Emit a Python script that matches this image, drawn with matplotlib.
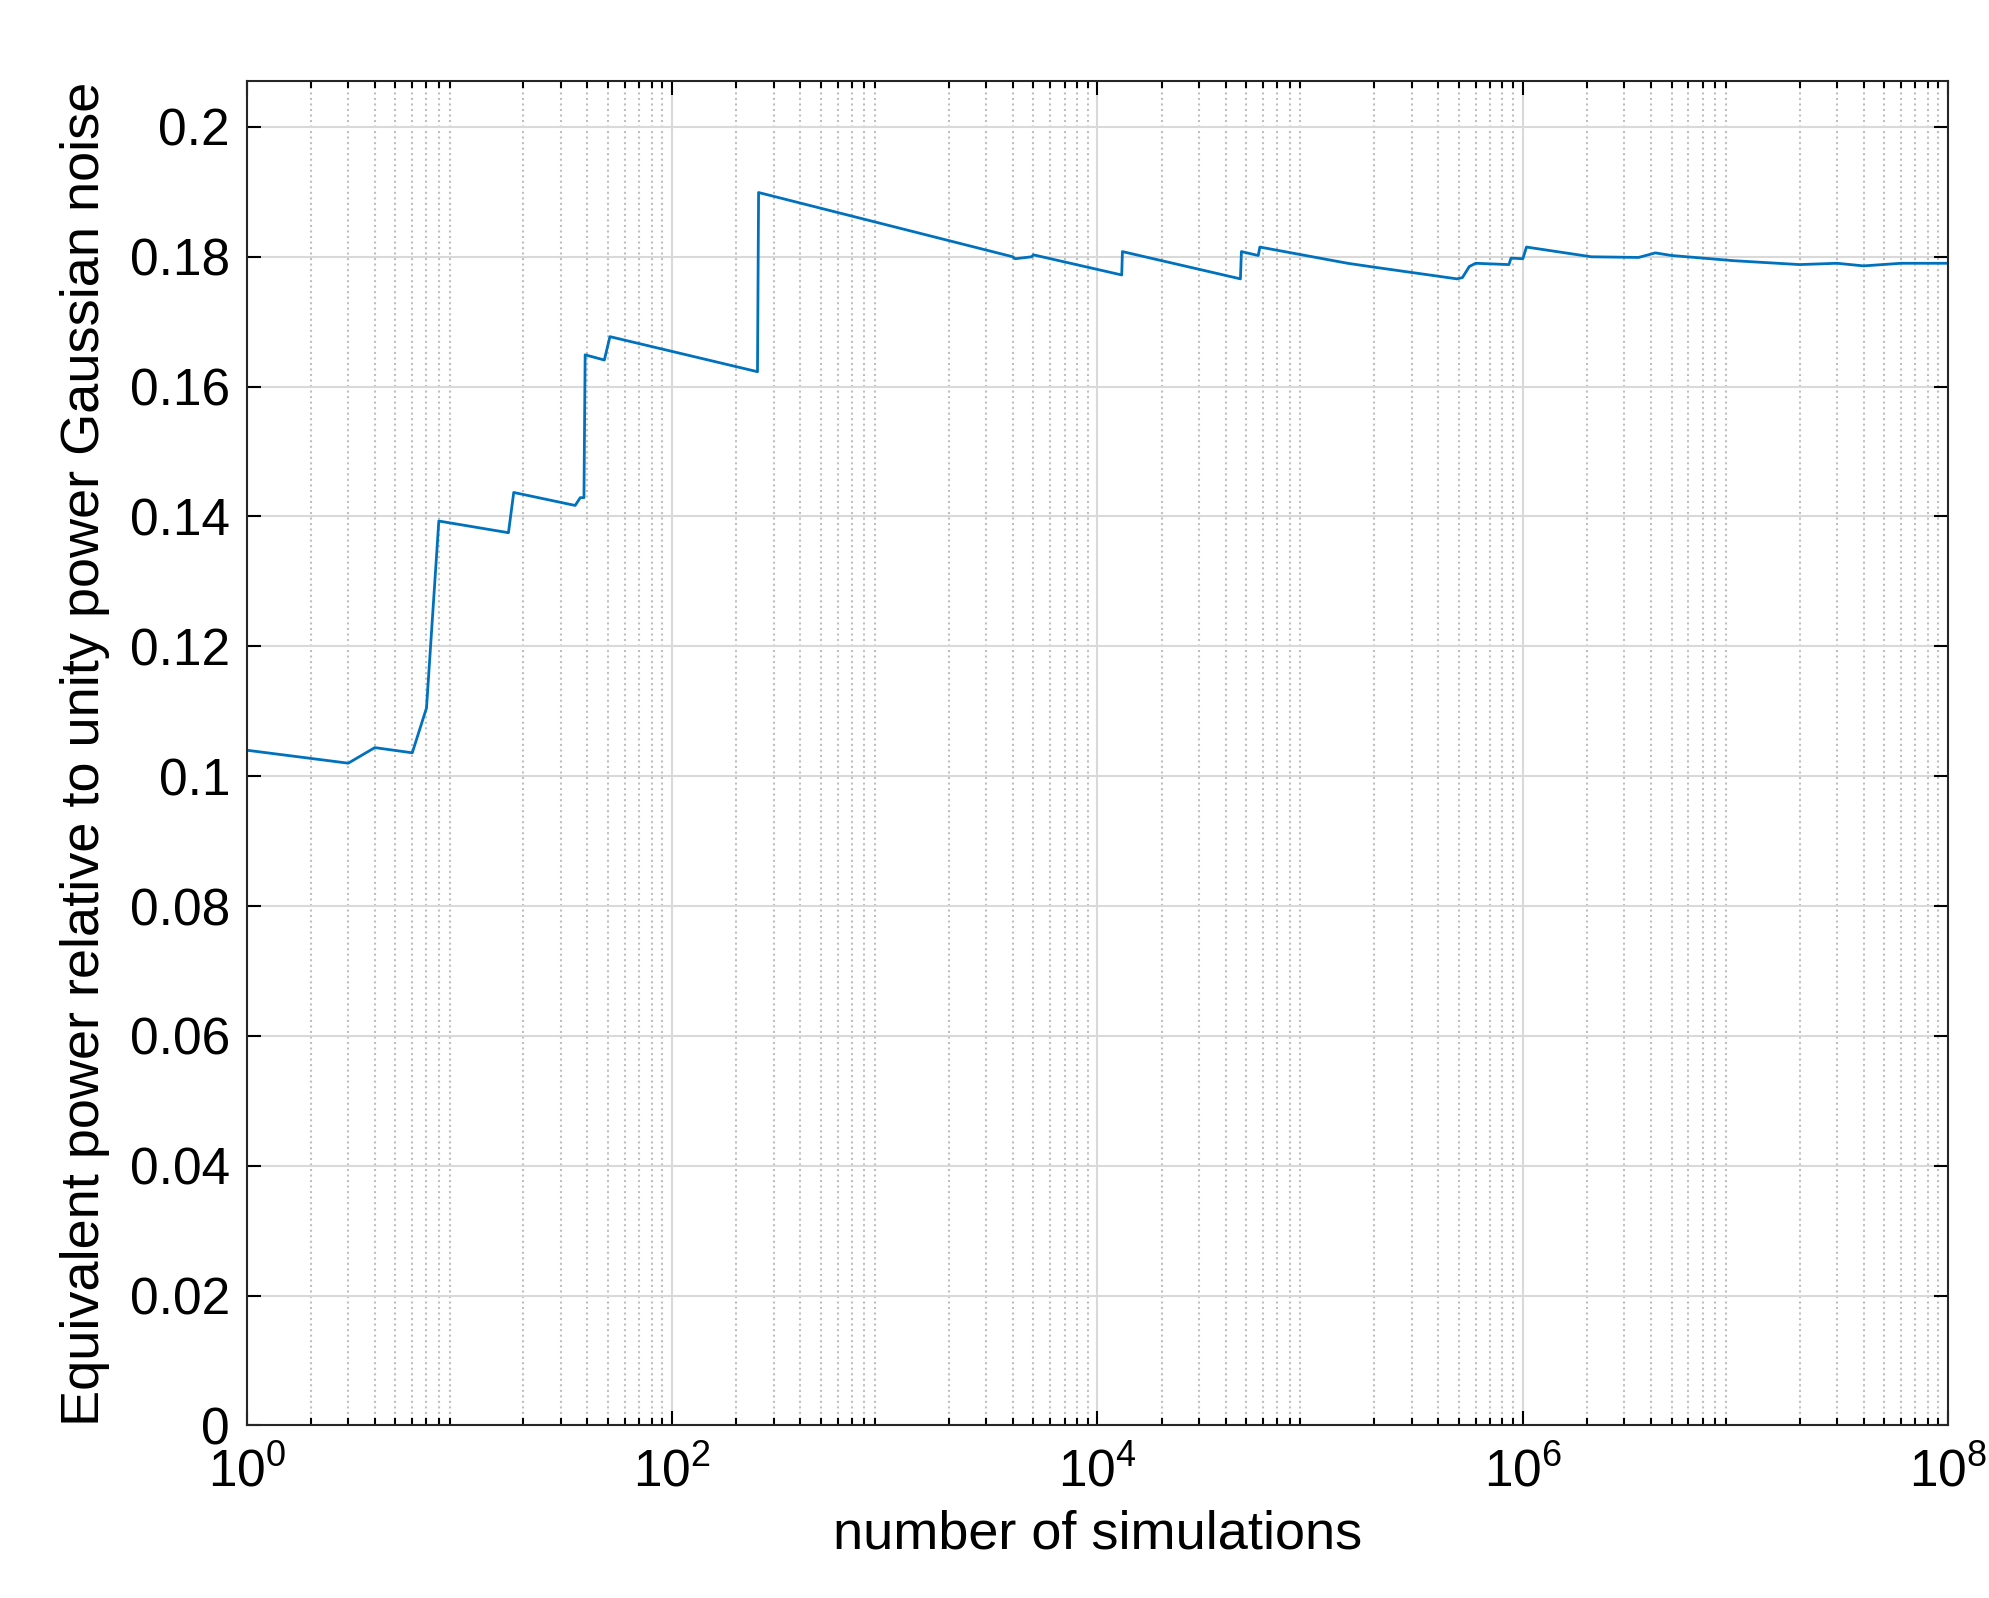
import numpy as np
import matplotlib.pyplot as plt

plt.rcParams['font.family'] = ['Liberation Sans', 'DejaVu Sans']
plt.rcParams['mathtext.fontset'] = 'custom'
plt.rcParams['mathtext.rm'] = 'Liberation Sans'

# running estimate vs number of simulations
n_sims = [1, 3, 4, 6, 7, 8, 17, 18, 35, 37, 38.5, 39, 48, 51, 252, 255,
          4000, 4100, 4900, 5000, 13000, 13100, 47000, 47500, 57000, 58000,
          150000, 200000, 490000, 520000, 560000, 600000, 860000, 880000,
          1000000, 1040000, 2100000, 3500000, 4200000, 5000000, 9800000,
          20000000, 30000000, 40000000, 60000000, 100000000]
power = [0.1040, 0.1020, 0.1044, 0.1036, 0.1105, 0.1393, 0.1375, 0.1437,
         0.1417, 0.1429, 0.1429, 0.1649, 0.1641, 0.1677, 0.1623, 0.1899,
         0.1800, 0.1797, 0.1800, 0.1803, 0.1772, 0.1808, 0.1766, 0.1808,
         0.1802, 0.1815, 0.1790, 0.1784, 0.1766, 0.1768, 0.1785, 0.1790,
         0.1788, 0.1798, 0.1797, 0.1815, 0.1800, 0.1799, 0.1806, 0.1802,
         0.1794, 0.1788, 0.1790, 0.1786, 0.1790, 0.1790]

fig = plt.figure(figsize=(19.9, 15.98), dpi=100)
ax = fig.add_axes([0.124, 0.108, 0.855, 0.841])
ax.plot(n_sims, power, color='#0072BD', lw=2)

ax.set_xscale('log')
ax.set_xlim(1, 1e8)
ax.set_ylim(0, 0.207)
ax.set_yticks(np.arange(0, 0.201, 0.02))
ax.set_yticklabels(['0', '0.02', '0.04', '0.06', '0.08', '0.1', '0.12',
                    '0.14', '0.16', '0.18', '0.2'])
ax.set_xticks([1, 1e2, 1e4, 1e6, 1e8])
ax.set_xticklabels([r'$10^0$', r'$10^2$', r'$10^4$', r'$10^6$', r'$10^8$'])

ax.grid(True, which='major', color='#d9d9d9', lw=1.5)
ax.grid(True, which='minor', axis='x', color='#bfbfbf', ls=':', lw=1.5)
ax.tick_params(which='both', direction='in', top=True, right=True,
               labelsize=37, width=1.5, length=10)
ax.tick_params(axis='x', pad=16)
ax.tick_params(axis='y', pad=12)
ax.tick_params(which='minor', length=5)
for s in ax.spines.values():
    s.set_linewidth(1.5)
    s.set_color('#262626')

ax.set_xlabel('number of simulations', fontsize=39, labelpad=8)
ax.set_ylabel('Equivalent power relative to unity power Gaussian noise',
              fontsize=39, labelpad=14)

fig.savefig('out.png', dpi=100)
